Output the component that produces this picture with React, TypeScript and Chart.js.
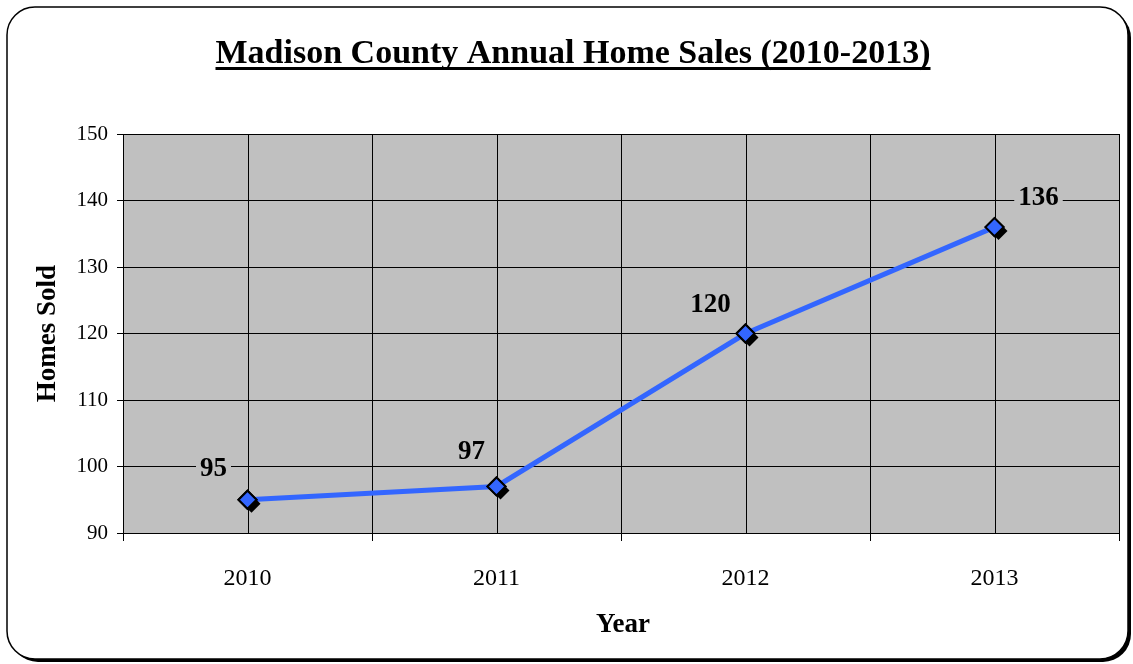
import React, { useEffect, useRef } from 'react';
import { Chart, registerables } from 'chart.js';

Chart.register(...registerables);

const years = ['2010', '2011', '2012', '2013'];
const homesSold = [95, 97, 120, 136];
const yTicks = [90, 100, 110, 120, 130, 140, 150];

const chartTitle = 'Madison County Annual Home Sales (2010-2013)';
const xTitle = 'Year';
const yTitle = 'Homes Sold';

const SERIF = "'Liberation Serif', 'Times New Roman', serif";
const BLUE = '#3366FF';
const PLOT_BG = '#C0C0C0';

// data label placement (styling): offset from point in px
const labelOffsets: [number, number][] = [[-34, -32], [-25, -35], [-35, -29], [44, -30]];

function roundRectPath(ctx: CanvasRenderingContext2D, x: number, y: number, w: number, h: number, r: number) {
  ctx.beginPath();
  ctx.moveTo(x + r, y);
  ctx.lineTo(x + w - r, y);
  ctx.arcTo(x + w, y, x + w, y + r, r);
  ctx.lineTo(x + w, y + h - r);
  ctx.arcTo(x + w, y + h, x + w - r, y + h, r);
  ctx.lineTo(x + r, y + h);
  ctx.arcTo(x, y + h, x, y + h - r, r);
  ctx.lineTo(x, y + r);
  ctx.arcTo(x, y, x + r, y, r);
  ctx.closePath();
}

function diamond(ctx: CanvasRenderingContext2D, x: number, y: number, r: number) {
  ctx.beginPath();
  ctx.moveTo(x - r, y);
  ctx.lineTo(x, y - r);
  ctx.lineTo(x + r, y);
  ctx.lineTo(x, y + r);
  ctx.closePath();
}

const decor = {
  id: 'decor',
  beforeDraw(chart: any) {
    const { ctx, chartArea: a, width, height } = chart;
    ctx.save();
    ctx.fillStyle = '#ffffff';
    ctx.fillRect(0, 0, width, height);
    roundRectPath(ctx, 10, 10, 1121, 652, 28);
    ctx.fillStyle = '#000';
    ctx.fill();
    roundRectPath(ctx, 7, 7, 1121, 652, 28);
    ctx.fillStyle = '#fff';
    ctx.fill();
    ctx.lineWidth = 1.5;
    ctx.strokeStyle = '#000';
    ctx.stroke();
    ctx.fillStyle = PLOT_BG;
    ctx.fillRect(a.left, a.top, a.right - a.left, a.bottom - a.top);
    ctx.restore();
  },
  beforeDatasetsDraw(chart: any) {
    const { ctx, chartArea: a } = chart;
    const xs = chart.scales.x;
    ctx.save();
    ctx.strokeStyle = '#000';
    ctx.lineWidth = 1;
    ctx.beginPath();
    years.forEach((_, i) => {
      const px = Math.round(xs.getPixelForValue(i)) + 0.5;
      ctx.moveTo(px, a.top);
      ctx.lineTo(px, a.bottom);
    });
    ctx.stroke();
    ctx.restore();
  },
  afterDatasetsDraw(chart: any) {
    const { ctx, chartArea } = chart;
    const meta = chart.getDatasetMeta(0);
    ctx.save();
    meta.data.forEach((pt: any) => {
      diamond(ctx, pt.x + 4, pt.y + 4, 9);
      ctx.fillStyle = '#000';
      ctx.fill();
      pt.draw(ctx, chartArea);
    });
    ctx.font = `bold 27px ${SERIF}`;
    ctx.textAlign = 'center';
    ctx.textBaseline = 'middle';
    meta.data.forEach((pt: any, i: number) => {
      const text = String(homesSold[i]);
      const [dx, dy] = labelOffsets[i];
      const cx = pt.x + dx;
      const cy = pt.y + dy;
      const w = ctx.measureText(text).width + 8;
      const h = 24;
      ctx.fillStyle = PLOT_BG;
      ctx.fillRect(cx - w / 2, cy - h / 2, w, h);
      ctx.fillStyle = '#000';
      ctx.fillText(text, cx, cy + 1);
    });
    ctx.restore();
  },
  afterDraw(chart: any) {
    const { ctx, chartArea: a } = chart;
    ctx.save();
    ctx.fillStyle = '#000';
    // title
    ctx.font = `bold 34px ${SERIF}`;
    ctx.textAlign = 'center';
    ctx.textBaseline = 'alphabetic';
    const tx = 573;
    ctx.fillText(chartTitle, tx, 63);
    const tw = ctx.measureText(chartTitle).width;
    ctx.fillRect(tx - tw / 2, 67, tw, 3);
    // x title
    ctx.font = `bold 27px ${SERIF}`;
    ctx.fillText(xTitle, (a.left + a.right) / 2 + 2, 632);
    // y title
    ctx.translate(48, (a.top + a.bottom) / 2);
    ctx.rotate(-Math.PI / 2);
    ctx.textBaseline = 'middle';
    ctx.fillText(yTitle, 0, 0);
    ctx.restore();
  },
};

export default function App() {
  const ref = useRef<HTMLCanvasElement | null>(null);
  useEffect(() => {
    if (!ref.current) return;
    const chart = new Chart(ref.current, {
      type: 'line',
      data: {
        labels: years,
        datasets: [
          {
            data: homesSold,
            borderColor: BLUE,
            borderWidth: 5,
            backgroundColor: BLUE,
            pointStyle: 'rectRot',
            pointRadius: 9,
            pointBorderWidth: 2,
            pointBorderColor: '#000',
            pointBackgroundColor: BLUE,
            tension: 0,
            fill: false,
          },
        ],
      },
      options: {
        responsive: false,
        animation: false,
        events: [],
        layout: { padding: { top: 134, right: 14, left: 0, bottom: 0 } },
        plugins: {
          legend: { display: false },
          title: { display: false },
          tooltip: { enabled: false },
        },
        scales: {
          x: {
            type: 'category',
            offset: true,
            grid: { offset: true, color: '#000', lineWidth: 1, tickLength: 8, drawTicks: true },
            border: { color: '#000', width: 1 },
            ticks: { font: { family: SERIF, size: 24 }, color: '#000', padding: 23, maxRotation: 0 },
            afterFit: (s: any) => {
              s.height = 131;
            },
          },
          y: {
            type: 'linear',
            min: 90,
            max: 150,
            grid: { color: '#000', lineWidth: 1, tickLength: 6 },
            border: { color: '#000', width: 1 },
            ticks: { font: { family: SERIF, size: 21 }, color: '#000', padding: 9 },
            afterBuildTicks: (s: any) => {
              s.ticks = yTicks.map((v) => ({ value: v }));
            },
            afterFit: (s: any) => {
              s.width = 123;
            },
          },
        },
      } as any,
      plugins: [decor],
    });
    return () => chart.destroy();
  }, []);
  return (
    <div style={{ position: 'absolute', left: 0, top: 0, width: 1133, height: 664 }}>
      <canvas ref={ref} width={1133} height={664} style={{ display: 'block' }} />
    </div>
  );
}
